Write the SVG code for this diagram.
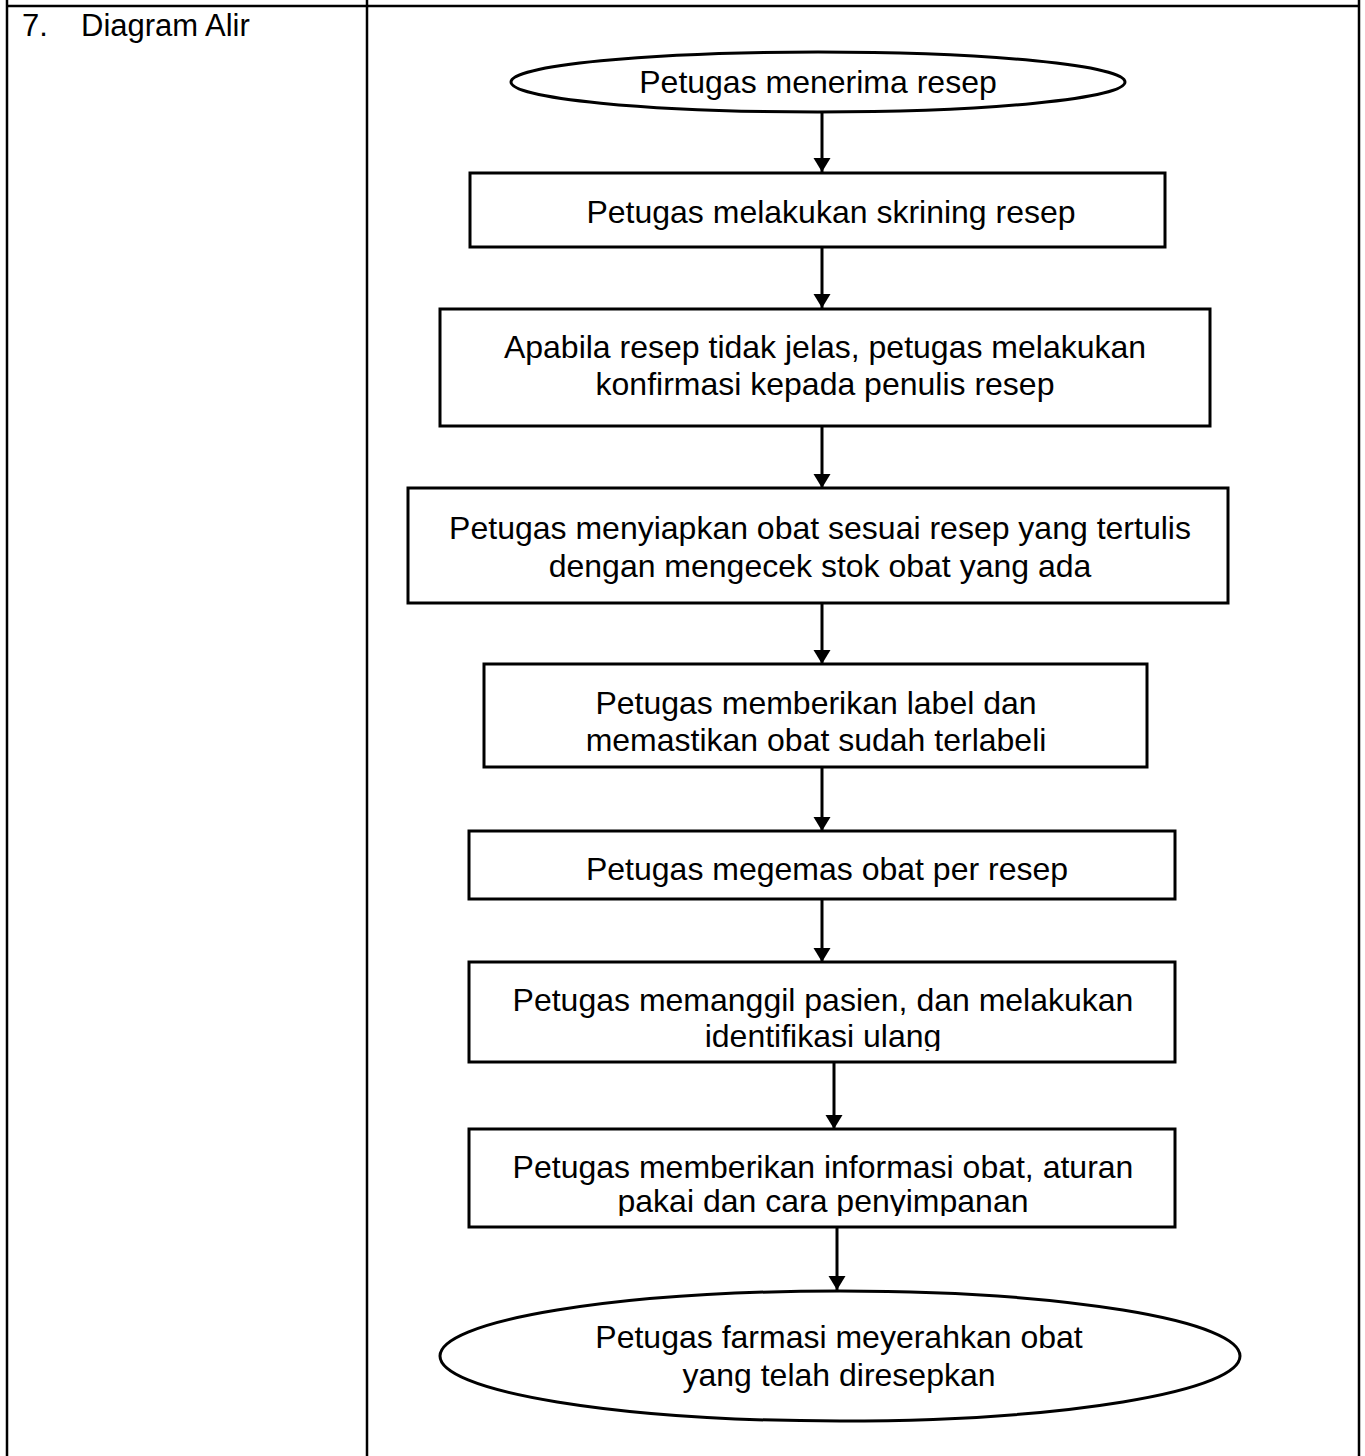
<svg xmlns="http://www.w3.org/2000/svg" width="1365" height="1456" viewBox="0 0 1365 1456">
<style>
.tbl{stroke:#000;stroke-width:2.5;fill:none}
.shape{fill:#fff;stroke:#000;stroke-width:3}
.t{font-family:"Liberation Sans",Arial,sans-serif;font-size:32px;fill:#000;text-anchor:middle}
.lbl{font-family:"Liberation Sans",Arial,sans-serif;font-size:31px;fill:#000}
.conn{stroke:#000;stroke-width:3;fill:none;marker-end:url(#ah)}
</style>
<defs>
<marker id="ah" markerUnits="userSpaceOnUse" markerWidth="15" markerHeight="18" refX="14" refY="8.5" orient="auto" viewBox="0 0 15 18">
<path d="M0,0 L14,8.5 L0,17 Z" fill="#000"/>
</marker>
<clipPath id="c7"><rect x="469" y="960" width="706" height="91"/></clipPath>
<clipPath id="c8"><rect x="469" y="1128" width="706" height="88"/></clipPath>
</defs>
<rect width="1365" height="1456" fill="#fff"/>
<g id="table">
<line class="tbl" x1="7" y1="6" x2="1359" y2="6"/>
<line class="tbl" x1="7" y1="0" x2="7" y2="1456"/>
<line class="tbl" x1="367" y1="0" x2="367" y2="1456"/>
<line class="tbl" x1="1359" y1="0" x2="1359" y2="1456"/>
<text class="lbl" x="22" y="36">7.</text>
<text class="lbl" x="81" y="36">Diagram Alir</text>
</g>
<g id="connectors">
<line class="conn" x1="822" y1="112" x2="822" y2="172"/>
<line class="conn" x1="822" y1="247" x2="822" y2="308"/>
<line class="conn" x1="822" y1="426" x2="822" y2="488"/>
<line class="conn" x1="822" y1="603" x2="822" y2="664"/>
<line class="conn" x1="822" y1="767" x2="822" y2="831"/>
<line class="conn" x1="822" y1="899" x2="822" y2="962"/>
<line class="conn" x1="834" y1="1062" x2="834" y2="1129"/>
<line class="conn" x1="837" y1="1227" x2="837" y2="1290"/>
</g>
<g id="n1">
<ellipse class="shape" cx="818" cy="82" rx="307" ry="30"/>
<text class="t" x="818" y="93">Petugas menerima resep</text>
</g>
<g id="n2">
<rect class="shape" x="470" y="173" width="695" height="74"/>
<text class="t" x="831" y="223">Petugas melakukan skrining resep</text>
</g>
<g id="n3">
<rect class="shape" x="440" y="309" width="770" height="117"/>
<text class="t" x="825" y="358">Apabila resep tidak jelas, petugas melakukan</text>
<text class="t" x="825" y="395">konfirmasi kepada penulis resep</text>
</g>
<g id="n4">
<rect class="shape" x="408" y="488" width="820" height="115"/>
<text class="t" x="820" y="539">Petugas menyiapkan obat sesuai resep yang tertulis</text>
<text class="t" x="820" y="577">dengan mengecek stok obat yang ada</text>
</g>
<g id="n5">
<rect class="shape" x="484" y="664" width="663" height="103"/>
<text class="t" x="816" y="714">Petugas memberikan label dan</text>
<text class="t" x="816" y="751">memastikan obat sudah terlabeli</text>
</g>
<g id="n6">
<rect class="shape" x="469" y="831" width="706" height="68"/>
<text class="t" x="827" y="880">Petugas megemas obat per resep</text>
</g>
<g id="n7">
<rect class="shape" x="469" y="962" width="706" height="100"/>
<g clip-path="url(#c7)">
<text class="t" x="823" y="1011">Petugas memanggil pasien, dan melakukan</text>
<text class="t" x="823" y="1047">identifikasi ulang</text>
</g>
</g>
<g id="n8">
<rect class="shape" x="469" y="1129" width="706" height="98"/>
<g clip-path="url(#c8)">
<text class="t" x="823" y="1178">Petugas memberikan informasi obat, aturan</text>
<text class="t" x="823" y="1212">pakai dan cara penyimpanan</text>
</g>
</g>
<g id="n9">
<ellipse class="shape" cx="840" cy="1356" rx="400" ry="65"/>
<text class="t" x="839" y="1348">Petugas farmasi meyerahkan obat</text>
<text class="t" x="839" y="1386">yang telah diresepkan</text>
</g>
</svg>
